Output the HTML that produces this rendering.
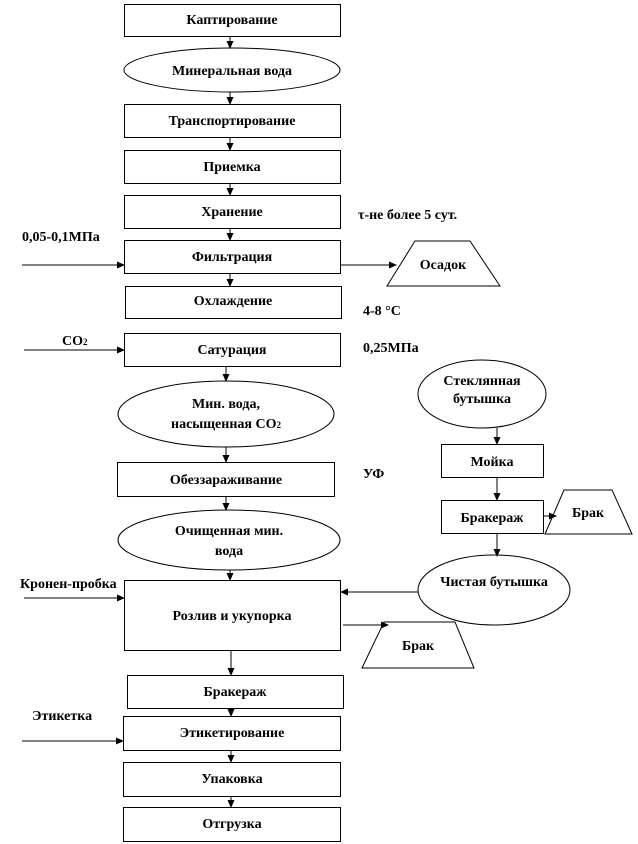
<!DOCTYPE html>
<html><head><meta charset="utf-8"><style>
body{margin:0;background:#fff}
svg{display:block}
text{font-family:"Liberation Serif",serif;font-weight:bold;font-size:14px;fill:#000;text-anchor:middle}
.l{text-anchor:start}
</style></head><body>
<svg width="638" height="844" viewBox="0 0 638 844">
<defs><marker id="a" markerWidth="8" markerHeight="8" refX="7" refY="4" orient="auto" markerUnits="userSpaceOnUse"><path d="M0,0.5 L8,4 L0,7.5z" fill="#000"/></marker></defs>
<g fill="none" stroke="#000" stroke-width="1">
<rect x="124.5" y="4.5" width="216" height="32"/>
<ellipse cx="232" cy="70" rx="108" ry="22"/>
<rect x="124.5" y="104.5" width="216" height="33"/>
<rect x="124.5" y="150.5" width="216" height="33"/>
<rect x="124.5" y="195.5" width="216" height="33"/>
<rect x="124.5" y="240.5" width="216" height="33"/>
<rect x="125.5" y="286.5" width="216" height="32"/>
<rect x="124.5" y="333.5" width="216" height="33"/>
<ellipse cx="226" cy="414" rx="108" ry="33"/>
<rect x="117.5" y="462.5" width="217" height="34"/>
<ellipse cx="229" cy="540" rx="111" ry="30"/>
<rect x="124.5" y="580.5" width="216" height="70"/>
<rect x="127.5" y="675.5" width="216" height="33"/>
<rect x="123.5" y="716.5" width="217" height="34"/>
<rect x="123.5" y="762.5" width="217" height="34"/>
<rect x="123.5" y="807.5" width="217" height="34"/>
<ellipse cx="482" cy="394" rx="64" ry="34"/>
<rect x="441.5" y="444.5" width="102" height="33"/>
<rect x="441.5" y="500.5" width="102" height="33"/>
<ellipse cx="494" cy="590" rx="76" ry="35"/>
<path d="M387,286 L415,241 L470,241 L500,286Z"/>
<path d="M545,534 L564,490 L612,490 L632,534Z"/>
<path d="M362,668 L384,622 L455,622 L474,668Z"/>
</g>
<g stroke="#000" stroke-width="1" marker-end="url(#a)">
<line x1="230" y1="37" x2="230" y2="48"/>
<line x1="230" y1="92" x2="230" y2="104"/>
<line x1="230" y1="138" x2="230" y2="150"/>
<line x1="230" y1="184" x2="230" y2="195"/>
<line x1="230" y1="229" x2="230" y2="240"/>
<line x1="230" y1="274" x2="230" y2="286"/>
<line x1="226" y1="367" x2="226" y2="381"/>
<line x1="226" y1="447" x2="226" y2="462"/>
<line x1="226" y1="497" x2="226" y2="510"/>
<line x1="230" y1="570" x2="230" y2="580"/>
<line x1="231" y1="651" x2="231" y2="675"/>
<line x1="231" y1="709" x2="231" y2="716"/>
<line x1="231" y1="751" x2="231" y2="762"/>
<line x1="231" y1="797" x2="231" y2="807"/>
<line x1="22" y1="265" x2="124" y2="265"/>
<line x1="341" y1="265" x2="396" y2="265"/>
<line x1="24" y1="350" x2="124" y2="350"/>
<line x1="24" y1="598" x2="124" y2="598"/>
<line x1="22" y1="741" x2="123" y2="741"/>
<line x1="497" y1="428" x2="497" y2="444"/>
<line x1="497" y1="478" x2="497" y2="500"/>
<line x1="497" y1="534" x2="497" y2="556"/>
<line x1="544" y1="516" x2="556" y2="516"/>
<line x1="418" y1="592" x2="341" y2="592"/>
<line x1="343" y1="625" x2="388" y2="625"/>
</g>
<text x="232" y="24">Каптирование</text>
<text x="232" y="75">Минеральная  вода</text>
<text x="232" y="125">Транспортирование</text>
<text x="232" y="171">Приемка</text>
<text x="232" y="216">Хранение</text>
<text x="232" y="261">Фильтрация</text>
<text x="233" y="305">Охлаждение</text>
<text x="232" y="354">Сатурация</text>
<text x="226" y="408">Мин. вода,</text>
<text x="226" y="428">насыщенная  CO<tspan font-size="9">2</tspan></text>
<text x="226" y="484">Обеззараживание</text>
<text x="229" y="535">Очищенная  мин.</text>
<text x="229" y="555">вода</text>
<text x="232" y="620">Розлив и укупорка</text>
<text x="235" y="696">Бракераж</text>
<text x="232" y="737">Этикетирование</text>
<text x="232" y="783">Упаковка</text>
<text x="232" y="828">Отгрузка</text>
<text x="443" y="269">Осадок</text>
<text x="482" y="385">Стеклянная</text>
<text x="482" y="403">бутышка</text>
<text x="492" y="466">Мойка</text>
<text x="492" y="522">Бракераж</text>
<text x="588" y="517">Брак</text>
<text x="494" y="586">Чистая бутышка</text>
<text x="418" y="650">Брак</text>
<text class="l" x="22" y="241">0,05-0,1МПа</text>
<text class="l" x="62" y="345">CO<tspan font-size="9">2</tspan></text>
<text class="l" x="20" y="588">Кронен-пробка</text>
<text class="l" x="32" y="720">Этикетка</text>
<text class="l" x="358" y="219">τ-не более 5 сут.</text>
<text class="l" x="363" y="315">4-8 °С</text>
<text class="l" x="363" y="352">0,25МПа</text>
<text class="l" x="363" y="478">УФ</text>
</svg>
</body></html>
